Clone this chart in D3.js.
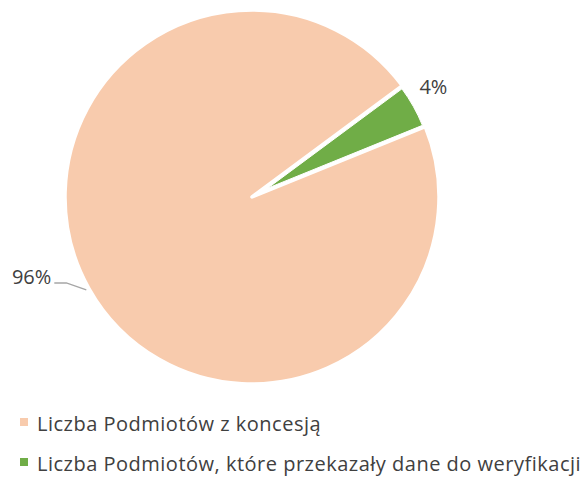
<!DOCTYPE html>
<html>
<head>
<meta charset="utf-8">
<script src="https://d3js.org/d3.v7.min.js"></script>
<style>
  body { margin: 0; background: #fff; }
  svg { display: block; }
  text { font-family: "Open Sans", "Liberation Sans", sans-serif; fill: #404040; }
</style>
</head>
<body>
<script>
var categories = ["Liczba Podmiotów z koncesją", "Liczba Podmiotów, które przekazały dane do weryfikacji"];
var values = [96, 4];
var labels = ["96%", "4%"];
var colors = ["#F8CBAD", "#70AD47"];

var w = 584, h = 480;
var cx = 252, cy = 197;
var R = 187, rExploded = 167, explode = 18;
var startDeg = 67.9;

var svg = d3.select("body").append("svg").attr("width", w).attr("height", h);

var pie = d3.pie().sort(null)
  .startAngle(startDeg * Math.PI / 180)
  .endAngle((startDeg + 360) * Math.PI / 180);
var arcs = pie(values);

var g = svg.append("g").attr("transform", "translate(" + cx + "," + cy + ")");

function mid(d) { return (d.startAngle + d.endAngle) / 2; }

arcs.forEach(function(d, i) {
  var m = mid(d);
  var off = i === 1 ? explode : 0;
  var r = i === 1 ? rExploded : R;
  var dx = off * Math.sin(m), dy = -off * Math.cos(m);
  var arc = d3.arc().innerRadius(0).outerRadius(r);
  g.append("path")
    .attr("d", arc(d))
    .attr("transform", "translate(" + dx + "," + dy + ")")
    .attr("fill", colors[i])
    .attr("stroke", "#fff")
    .attr("stroke-width", i === 1 ? 1 : 3.5)
    .attr("stroke-linejoin", "round");
});

// 96% label with leader line
var a0 = arcs[0], m0 = mid(a0);
var p1 = [190 * Math.sin(m0), -190 * Math.cos(m0)];
var p2 = [p1[0] - 20, p1[1] - 7];
var p3 = [p2[0] - 12, p2[1]];
g.append("polyline")
  .attr("points", [p1, p2, p3].map(function(p) { return p.join(","); }).join(" "))
  .attr("fill", "none")
  .attr("stroke", "#A6A6A6")
  .attr("stroke-width", 1.3);
g.append("text")
  .attr("x", p3[0] - 3)
  .attr("y", p3[1] + 1)
  .attr("text-anchor", "end")
  .attr("font-size", 20)
  .text(labels[0]);

// 4% label
var a1 = arcs[1], m1 = mid(a1);
g.append("text")
  .attr("x", (explode + 190) * Math.sin(m1))
  .attr("y", -(explode + 190) * Math.cos(m1) - 1)
  .attr("text-anchor", "middle")
  .attr("font-size", 20)
  .text(labels[1]);

// legend
var legend = svg.selectAll(".leg").data(categories).enter().append("g")
  .attr("transform", function(d, i) { return "translate(20," + (431 + i * 40) + ")"; });
legend.append("rect")
  .attr("x", 0).attr("y", -13).attr("width", 8).attr("height", 8)
  .attr("fill", function(d, i) { return colors[i]; });
legend.append("text")
  .attr("x", 17).attr("y", 0)
  .attr("font-size", 20)
  .attr("letter-spacing", 0.5)
  .text(function(d) { return d; });
</script>
</body>
</html>
